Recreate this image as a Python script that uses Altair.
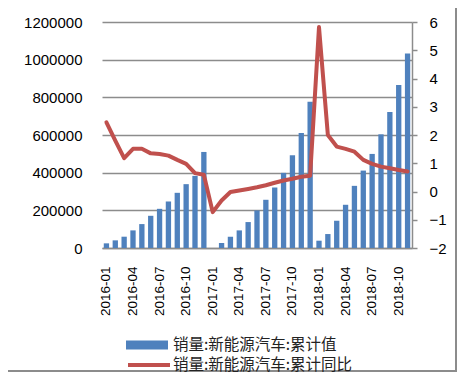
import altair as alt
import pandas as pd

months = [
    "2016-01", "2016-02", "2016-03", "2016-04", "2016-05", "2016-06",
    "2016-07", "2016-08", "2016-09", "2016-10", "2016-11", "2016-12",
    "2017-01", "2017-02", "2017-03", "2017-04", "2017-05", "2017-06",
    "2017-07", "2017-08", "2017-09", "2017-10", "2017-11", "2017-12",
    "2018-01", "2018-02", "2018-03", "2018-04", "2018-05", "2018-06",
    "2018-07", "2018-08", "2018-09", "2018-10", "2018-11",
]
cumulative_sales = [
    24700, 40600, 60000, 93500, 127000, 171000, 208000, 247000, 293000, 339000, 383000, 510000,
    None, 26500, 60000, 93500, 137700, 199400, 256000, 321200, 398900, 492400, 610700, 776600,
    38800, 74100, 144700, 229500, 330000, 411000, 499500, 603600, 722000, 865000, 1032500,
]
yoy = [
    2.45, 1.80, 1.18, 1.51, 1.51, 1.35, 1.33, 1.27, 1.12, 0.98, 0.65, 0.59,
    -0.73, -0.32, -0.02, 0.035, 0.09, 0.15, 0.22, 0.31, 0.39, 0.45, 0.52, 0.56,
    5.82, 2.00, 1.59, 1.51, 1.41, 1.12, 0.98, 0.88, 0.82, 0.76, 0.71,
]
tick_months = ["2016-01", "2016-04", "2016-07", "2016-10", "2017-01", "2017-04",
               "2017-07", "2017-10", "2018-01", "2018-04", "2018-07", "2018-10"]
left_ticks = [0, 200000, 400000, 600000, 800000, 1000000, 1200000]
right_ticks = [-2, -1, 0, 1, 2, 3, 4, 5, 6]

bar_name = "销量:新能源汽车:累计值"
line_name = "销量:新能源汽车:累计同比"

df = pd.DataFrame({"month": months, "sales": cumulative_sales, "yoy": yoy})

GRAY = "#8c8c8c"
LABEL_FONT = "Liberation Sans"

x_enc = alt.X(
    "month:O", sort=months,
    scale=alt.Scale(paddingInner=0.4, paddingOuter=0.2),
    axis=alt.Axis(values=tick_months, labelAngle=-90, ticks=False, domain=True,
                  domainColor=GRAY, domainWidth=1.5, labelPadding=18, title=None,
                  labelFont=LABEL_FONT, labelFontSize=13.5, labelColor="#000000"),
)

border = alt.Chart(df).mark_rect(fill=None, stroke=GRAY, strokeWidth=2, clip=False).encode(
    x=alt.value(-95), x2=alt.value(354), y=alt.value(-15), y2=alt.value(349)
)

bars = alt.Chart(df).mark_bar(color="#4F81BD").encode(
    x=x_enc,
    y=alt.Y("sales:Q", scale=alt.Scale(domain=[0, 1200000], nice=False),
            axis=alt.Axis(values=left_ticks, format="d", domain=False, ticks=False,
                          labelPadding=20, grid=True, gridColor=GRAY, gridWidth=1.5,
                          title=None, labelFont=LABEL_FONT, labelFontSize=15,
                          labelColor="#000000")),
    color=alt.Color("series:N", scale=alt.Scale(domain=[bar_name], range=["#4F81BD"]),
                    legend=alt.Legend(orient="none", legendX=24, legendY=302, title=None,
                                      symbolType="M-1,-0.214H1V0.214H-1Z", symbolSize=1764,
                                      symbolStrokeWidth=0, labelOffset=5, labelLimit=400,
                                      labelFont="Noto Sans CJK SC", labelFontSize=15.5,
                                      labelColor="#222222", padding=0)),
).transform_calculate(series=f"'{bar_name}'")

line = alt.Chart(df).mark_line(strokeWidth=4, strokeJoin="round", strokeCap="round").encode(
    x=x_enc,
    y=alt.Y("yoy:Q", scale=alt.Scale(domain=[-2, 6], nice=False),
            axis=alt.Axis(orient="right", values=right_ticks, domain=True, domainColor=GRAY,
                          domainWidth=1.5, ticks=True, tickSize=5, tickColor=GRAY,
                          tickWidth=1.5, labelPadding=12, grid=False, title=None,
                          labelFont=LABEL_FONT, labelFontSize=15, labelColor="#000000")),
    color=alt.Color("series:N", scale=alt.Scale(domain=[line_name], range=["#C0504D"]),
                    legend=alt.Legend(orient="none", legendX=24, legendY=320, title=None,
                                      symbolType="M-1,0H1", symbolSize=1764,
                                      symbolStrokeWidth=4, labelOffset=1, labelLimit=400,
                                      labelFont="Noto Sans CJK SC", labelFontSize=15.5,
                                      labelColor="#222222", padding=0)),
).transform_calculate(series=f"'{line_name}'")

chart = alt.layer(border, bars, line).resolve_scale(
    y="independent", color="independent"
).properties(
    width=310, height=226,
    padding={"left": 94, "top": 14, "right": 49, "bottom": 125},
    autosize="none",
).configure_view(stroke=None)

chart.save("out.html", embed_options={"renderer": "svg", "actions": False})
